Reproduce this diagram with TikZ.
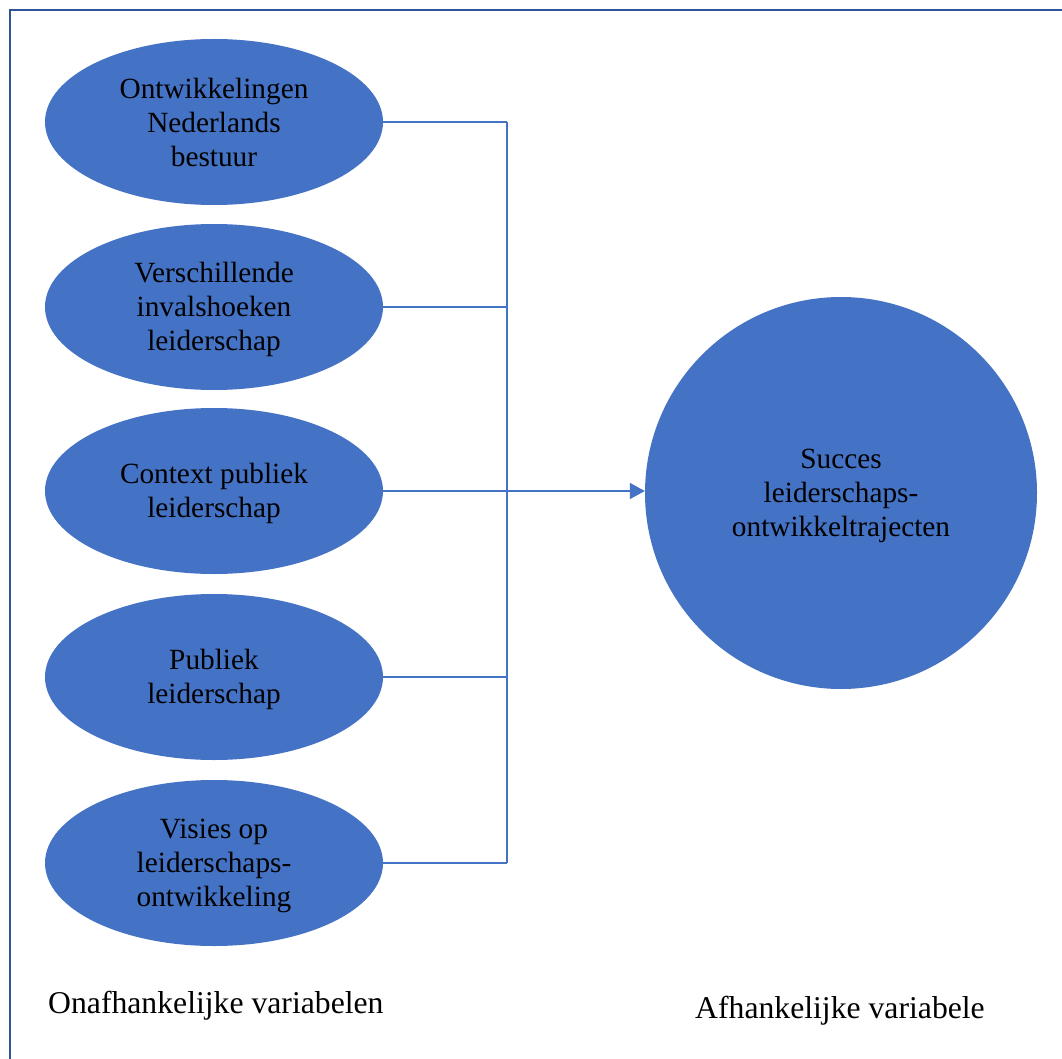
\documentclass[tikz,border=0pt]{standalone}
\usepackage{fontspec}
\setmainfont{Liberation Serif}
\usetikzlibrary{shapes.geometric,arrows.meta}
\definecolor{accent}{HTML}{4472C4}
\definecolor{framec}{HTML}{2F5597}
\newcommand{\myTop}{\rule{0pt}{26pt}}
\newcommand{\myBot}{\rule[-4pt]{0pt}{4pt}}
\tikzset{
  var/.style={ellipse, fill=accent, draw=none, minimum width=338pt, minimum height=166pt, inner sep=0pt, align=center, font=\fontsize{29.3}{34}\selectfont},
  goal/.style={circle, fill=accent, draw=none, minimum size=392pt, inner sep=0pt, align=center, font=\fontsize{29.3}{34}\selectfont},
  lab/.style={anchor=base west, inner sep=0pt, font=\fontsize{31.7}{36}\selectfont},
  feed/.style={draw=accent, line width=2.2pt},
  bus/.style={draw=accent, line width=1.4pt},
}
\begin{document}
\begin{tikzpicture}[x=1pt,y=-1pt]
\useasboundingbox (0,0) rectangle (1062,1059);
\fill[white] (0,0) rectangle (1062,1059);
\draw[framec, line width=2.8pt] (10,10) rectangle (1080,1080);
\node[var] (e1) at (214,122) {\myTop Ontwikkelingen\\Nederlands\\bestuur\myBot};
\node[var] (e2) at (214,307) {\myTop Verschillende\\invalshoeken\\leiderschap\myBot};
\node[var] (e3) at (214,491) {\myTop Context publiek\\leiderschap\myBot};
\node[var] (e4) at (214,677) {\myTop Publiek\\leiderschap\myBot};
\node[var] (e5) at (214,863) {\myTop Visies op\\leiderschaps-\\ontwikkeling\myBot};
\node[goal] (c) at (841,493) {\myTop Succes\\leiderschaps-\\ontwikkeltrajecten\myBot};
\coordinate (j1) at (507,122);
\coordinate (j2) at (507,307);
\coordinate (j3) at (507,491);
\coordinate (j4) at (507,677);
\coordinate (j5) at (507,863);
\draw[feed] (e1.east) -- (j1);
\draw[feed] (e2.east) -- (j2);
\draw[feed] (e3.east) -- (j3);
\draw[feed] (e4.east) -- (j4);
\draw[feed] (e5.east) -- (j5);
\draw[bus] (j1) -- (j5);
\draw[bus, -{Triangle[length=15pt,width=16pt]}] (j3) -- (c.west |- j3);
\node[lab] (l1) at (48,1013) {Onafhankelijke variabelen};
\node[lab] (l2) at (695,1018) {Afhankelijke variabele};
\end{tikzpicture}
\end{document}
